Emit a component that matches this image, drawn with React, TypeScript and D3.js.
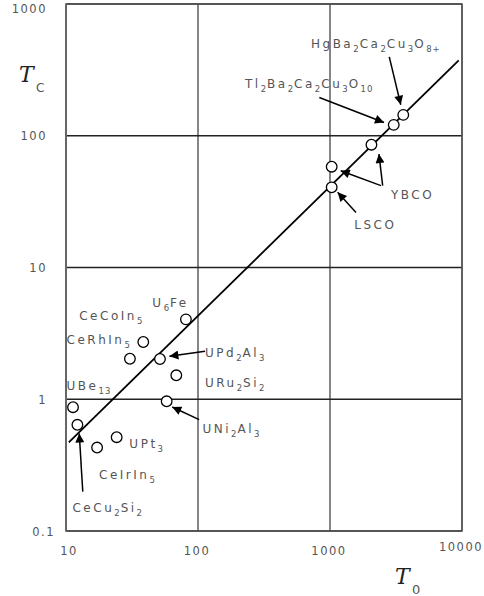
import React from "react";
import * as d3 from "d3";

const W = 484;
const H = 596;

// axis ticks
const xTicks = [10, 100, 1000, 10000];
const yTicks = [0.1, 1, 10, 100, 1000];

// measured compounds: T0 (x) and Tc (y)
const compounds = ["UBe13", "CeCu2Si2", "CeIrIn5", "UPt3", "CeRhIn5", "CeCoIn5", "UPd2Al3", "URu2Si2", "UNi2Al3", "U6Fe", "LSCO", "YBCO-a", "YBCO-b", "Tl2223", "Hg1223"];
const t0Values = [11.3, 12.2, 17.2, 24.2, 30.5, 38.5, 51.5, 68.5, 57.9, 81, 1030, 1030, 2060, 3040, 3590];
const tcValues = [0.87, 0.64, 0.43, 0.515, 2.03, 2.72, 2.02, 1.52, 0.965, 4.04, 40.6, 58.2, 85.5, 121, 144];

// straight line through the points
const fitT0 = [10.5, 9440];
const fitTc = [0.47, 374];

// labels: text pieces alternate normal / subscript, position in data units
const labelParts = [
  ["HgBa", "2", "Ca", "2", "Cu", "3", "O", "8+"],
  ["Tl", "2", "Ba", "2", "Ca", "2", "Cu", "3", "O", "10"],
  ["YBCO"],
  ["LSCO"],
  ["U", "6", "Fe"],
  ["CeCoIn", "5"],
  ["CeRhIn", "5"],
  ["UBe", "13"],
  ["UPd", "2", "Al", "3"],
  ["URu", "2", "Si", "2"],
  ["UNi", "2", "Al", "3"],
  ["UPt", "3"],
  ["CeIrIn", "5"],
  ["CeCu", "2", "Si", "2"],
];
const labelT0 = [718, 227, 2897, 1528, 45.1, 12.6, 10.1, 10.1, 113, 113, 108, 30.2, 17.8, 11.2];
const labelTc = [467, 231, 33.3, 19.7, 5.0, 3.97, 2.64, 1.17, 2.09, 1.24, 0.556, 0.423, 0.248, 0.139];

// arrows: tail -> tip, data units
const arrowFromT0 = [2812, 830, 2432, 2506, 1574, 113, 102, 13.4];
const arrowFromTc = [397, 195, 41.8, 41.8, 26.2, 2.31, 0.70, 0.199];
const arrowToT0 = [3436, 2565, 1205, 2349, 1143, 60.7, 63.8, 12.6];
const arrowToTc = [172, 126, 54.3, 72.6, 37.2, 2.12, 0.874, 0.55];

const x = d3.scaleLog().domain([10, 10000]).range([66, 462]);
const y = d3.scaleLog().domain([0.1, 1000]).range([531, 4]);

const textColor = "#555";
const labelFont = "'DejaVu Sans', sans-serif";

const Label = ({ parts, px, py }: { parts: string[]; px: number; py: number }) => (
  <text x={px} y={py} fontFamily={labelFont} fontSize={12} letterSpacing={2.5} fill={textColor}>
    {parts.map((p, i) =>
      i % 2 === 0 ? (
        <tspan key={i} dy={i === 0 ? 0 : -4}>{p}</tspan>
      ) : (
        <tspan key={i} dy={4} fontSize={8.5} letterSpacing={1}>{p}</tspan>
      )
    )}
  </text>
);

export default function App() {
  const line = d3
    .line<number>()
    .x((d, i) => x(fitT0[i]))
    .y((d, i) => y(fitTc[i]));

  return (
    <svg width={W} height={H} style={{ position: "absolute", left: 0, top: 0, background: "#fff" }}>
      <defs>
        <marker id="head" viewBox="0 0 10 10" refX="10" refY="5" markerWidth="11" markerHeight="9" markerUnits="userSpaceOnUse" orient="auto">
          <path d="M0,0 L10,5 L0,10 z" fill="#000" />
        </marker>
      </defs>

      {/* grid */}
      {xTicks.map((t) => (
        <line key={"gx" + t} x1={x(t)} x2={x(t)} y1={y(0.1)} y2={y(1000)} stroke="#444" strokeWidth={1.3} />
      ))}
      {yTicks.map((t) => (
        <line key={"gy" + t} x1={x(10)} x2={x(10000)} y1={y(t)} y2={y(t)} stroke="#222" strokeWidth={1.3} />
      ))}
      <rect x={x(10)} y={y(1000)} width={x(10000) - x(10)} height={y(0.1) - y(1000)} fill="none" stroke="#555" strokeWidth={1.5} />
      <line x1={x(10)} x2={x(10)} y1={y(0.1)} y2={y(1000)} stroke="#666" strokeWidth={2} />

      {/* tick labels */}
      {yTicks.map((t) => (
        <text key={"ty" + t} x={t === 0.1 ? 55 : 47} y={Math.max(y(t) + 4.5, 13)} textAnchor="end" fontFamily={labelFont} fontSize={11.5} letterSpacing={1.5} fill={textColor}>
          {String(t)}
        </text>
      ))}
      {xTicks.map((t) => (
        <text key={"tx" + t} x={x(t) + (t === 10 ? 3 : -1)} y={t === 10000 ? 551 : 555} textAnchor="middle" fontFamily={labelFont} fontSize={11.5} letterSpacing={1.5} fill={textColor}>
          {String(t)}
        </text>
      ))}

      {/* axis titles */}
      <text x={19} y={82} fontFamily="'DejaVu Serif', serif" fontStyle="italic" fontSize={22} fill="#222">T</text>
      <text x={36} y={92} fontFamily={labelFont} fontSize={12} fill={textColor}>C</text>
      <text x={395} y={584} fontFamily="'DejaVu Serif', serif" fontStyle="italic" fontSize={22} fill="#222">T</text>
      <text x={412} y={594} fontFamily={labelFont} fontSize={13} fill={textColor}>0</text>

      {/* fit line */}
      <path d={line(fitT0) || ""} fill="none" stroke="#000" strokeWidth={1.8} />

      {/* points */}
      {compounds.map((c, i) => (
        <circle key={c} cx={x(t0Values[i])} cy={y(tcValues[i])} r={5.3} fill="#fff" stroke="#000" strokeWidth={1.3} />
      ))}

      {/* arrows */}
      {arrowFromT0.map((v, i) => (
        <line key={"a" + i} x1={x(v)} y1={y(arrowFromTc[i])} x2={x(arrowToT0[i])} y2={y(arrowToTc[i])} stroke="#000" strokeWidth={1.5} markerEnd="url(#head)" />
      ))}

      {/* labels */}
      {labelParts.map((parts, i) => (
        <Label key={"l" + i} parts={parts} px={x(labelT0[i])} py={y(labelTc[i])} />
      ))}
    </svg>
  );
}
